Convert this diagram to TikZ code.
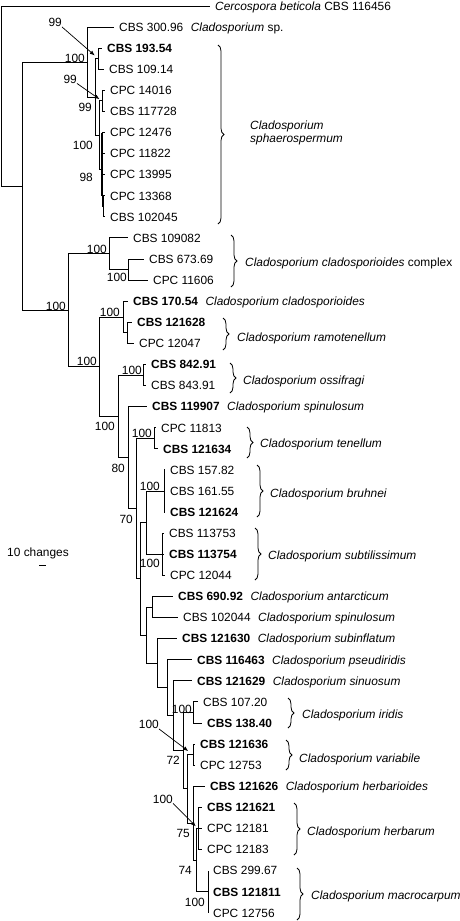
\documentclass[tikz,border=0pt]{standalone}
\usepackage{fontspec}
\setmainfont{Liberation Sans}
\usetikzlibrary{arrows.meta,decorations.pathreplacing}

\newcommand{\treefont}{\fontsize{11.9}{13}\selectfont}
\newcommand{\gap}{\hspace{7.5pt}}

\begin{document}
\begin{tikzpicture}[x=1pt,y=-1pt,
    branch/.style={line width=1pt},
    tip/.style={anchor=west,inner xsep=5pt,inner ysep=0pt,text height=8.5pt,text depth=0pt,font=\treefont},
    boot/.style={anchor=east,inner sep=0pt,text height=8.5pt,text depth=0pt,font=\treefont},
    pointer/.style={line width=0.7pt,-{Latex[length=5pt,width=4pt]}},
    grp/.style={decorate,decoration={brace,amplitude=6pt},line width=0.8pt},
    taxon/.style={anchor=west,inner sep=0pt,text height=8.5pt,text depth=0pt,font=\treefont\itshape}]

        \useasboundingbox (0,0) rectangle (460,921);

        % Tip labels, one row every 21.09
        \foreach \i/\tx/\lab in {
            0/215/{\textit{Cercospora beticola} CBS 116456},
            1/119/{CBS 300.96\gap\textit{Cladosporium} sp.},
            2/107/{\textbf{CBS 193.54}},
            3/109/{CBS 109.14},
            4/110/{CPC 14016},
            5/110/{CBS 117728},
            6/110/{CPC 12476},
            7/110/{CPC 11822},
            8/110/{CPC 13995},
            9/110/{CPC 13368},
            10/110/{CBS 102045},
            11/133/{CBS 109082},
            12/149/{CBS 673.69},
            13/153/{CPC 11606},
            14/133/{\textbf{CBS 170.54}\gap\textit{Cladosporium cladosporioides}},
            15/137/{\textbf{CBS 121628}},
            16/139/{CPC 12047},
            17/151/{\textbf{CBS 842.91}},
            18/151/{CBS 843.91},
            19/152/{\textbf{CBS 119907}\gap\textit{Cladosporium spinulosum}},
            20/161/{CPC 11813},
            21/163/{\textbf{CBS 121634}},
            22/170/{CBS 157.82},
            23/170/{CBS 161.55},
            24/170/{\textbf{CBS 121624}},
            25/169/{CBS 113753},
            26/169/{\textbf{CBS 113754}},
            27/170/{CPC 12044},
            28/178/{\textbf{CBS 690.92}\gap\textit{Cladosporium antarcticum}},
            29/183/{CBS 102044\gap\textit{Cladosporium spinulosum}},
            30/182/{\textbf{CBS 121630}\gap\textit{Cladosporium subinflatum}},
            31/197/{\textbf{CBS 116463}\gap\textit{Cladosporium pseudiridis}},
            32/197/{\textbf{CBS 121629}\gap\textit{Cladosporium sinuosum}},
            33/203/{CBS 107.20},
            34/207/{\textbf{CBS 138.40}},
            35/200/{\textbf{CBS 121636}},
            36/200/{CPC 12753},
            37/210/{\textbf{CBS 121626}\gap\textit{Cladosporium herbarioides}},
            38/207/{\textbf{CBS 121621}},
            39/207/{CPC 12181},
            40/207/{CPC 12183},
            41/213/{CBS 299.67},
            42/213/{\textbf{CBS 121811}},
            43/213/{CPC 12756}}
            \node[tip] (t\i) at ({\tx-5},{6+21.09*\i}) {\lab};

        % Internal nodes
        \coordinate (root) at (1,96);
        \coordinate (n1) at (22,186.1);
        \coordinate (sphA) at (87,62);
        \coordinate (sphB) at (95,97);
        \coordinate (sphC) at (98.5,58.75);
        \coordinate (sphD) at (99,135.2);
        \coordinate (sphE) at (102,100.95);
        \coordinate (sphF) at (102,169.4);
        \coordinate (sphG) at (103.5,206.35);
        \coordinate (n2) at (68,310.25);
        \coordinate (cla1) at (109,253.8);
        \coordinate (cla2) at (128,269.65);
        \coordinate (n3) at (99,366.7);
        \coordinate (ram1) at (123,317.1);
        \coordinate (ram2) at (127.5,332.9);
        \coordinate (n4) at (118,416.35);
        \coordinate (oss) at (143,375.05);
        \coordinate (n5) at (128,457.65);
        \coordinate (n6) at (136,508.6);
        \coordinate (ten) at (154,438.35);
        \coordinate (n7) at (140,578.9);
        \coordinate (brsu) at (146,522.7);
        \coordinate (bru) at (164,491.1);
        \coordinate (sub) at (162,554.35);
        \coordinate (n8) at (146,635.15);
        \coordinate (ant) at (152,607.05);
        \coordinate (n9) at (157,663.25);
        \coordinate (n10) at (167,687.8);
        \coordinate (n11) at (173,715.8);
        \coordinate (n12) at (183,750.75);
        \coordinate (iri) at (193,712.55);
        \coordinate (n13) at (187,788.95);
        \coordinate (var) at (193,754.7);
        \coordinate (n14) at (193,823.2);
        \coordinate (n15) at (196,860.15);
        \coordinate (her) at (198,828.5);
        \coordinate (mac) at (208,891.8);

        % Branches (parent |- child)
        \foreach \p/\c in {root/t0.west, root/n1, n1/sphA, n1/n2,
            sphA/t1.west, sphA/sphB, sphB/sphC, sphB/sphD,
            sphC/t2.west, sphC/t3.west, sphD/sphE, sphD/sphF,
            sphE/t4.west, sphE/t5.west,
            sphF/t6.west, sphF/t7.west, sphF/t8.west, sphF/sphG,
            sphG/t9.west, sphG/t10.west,
            n2/cla1, n2/n3, cla1/t11.west, cla1/cla2, cla2/t12.west, cla2/t13.west,
            n3/ram1, n3/n4, ram1/t14.west, ram1/ram2, ram2/t15.west, ram2/t16.west,
            n4/oss, n4/n5, oss/t17.west, oss/t18.west,
            n5/t19.west, n5/n6, n6/ten, n6/n7, ten/t20.west, ten/t21.west,
            n7/brsu, n7/n8, brsu/bru, brsu/sub,
            bru/t22.west, bru/t23.west, bru/t24.west,
            sub/t25.west, sub/t26.west, sub/t27.west,
            n8/ant, n8/n9, ant/t28.west, ant/t29.west,
            n9/t30.west, n9/n10, n10/t31.west, n10/n11, n11/t32.west, n11/n12,
            n12/iri, n12/n13, iri/t33.west, iri/t34.west,
            n13/var, n13/n14, var/t35.west, var/t36.west,
            n14/t37.west, n14/n15, n15/her, n15/mac,
            her/t38.west, her/t39.west, her/t40.west,
            mac/t41.west, mac/t42.west, mac/t43.west}
            \draw[branch] (\p) |- (\c);
        % zero-length branches stacked on one another
        \draw[branch,line width=2pt] (sphF |- t6.west) -- (sphF |- t9.west);

        % Bootstrap values
        \foreach \x/\y/\v [count=\k] in {85/58/100, 92/107/99, 93/145/100, 93/177/98,
            107/249/100, 127/277/100, 66/306/100, 120/312/100, 97/361/100,
            142/370/100, 115/426/100, 152/433/100, 125/468/80, 160/486/100,
            133/519/70, 160/563/100, 192/709/100, 180/760/72, 190/833/75,
            192/870/74, 205/902/100}
            \node[boot] (bs\k) at (\x,\y) {\v};

        % Values pointing at short branches
        \node[boot] (a1) at (62,22.5) {99};
        \node[boot] (a2) at (77,79) {99};
        \node[boot] (a3) at (159,724.5) {100};
        \node[boot] (a4) at (173,799) {100};
        \draw[pointer,shorten >=5pt] (a1.south east) -- (sphC);
        \draw[pointer,shorten >=3pt] (a2.south east) -- (sphE);
        \draw[pointer,shorten >=6pt] (a3.south east) -- (var);
        \draw[pointer,shorten >=3pt] (a4.south east) -- (her);

        % Species brackets
        \foreach \bx/\ya/\yb/\sx/\sy/\name [count=\k] in {
            231/235/287/245/262/{Cladosporium cladosporioides\/ \upshape complex},
            223/318/350/237/337/{Cladosporium ramotenellum},
            230/363/393/243/380/{Cladosporium ossifragi},
            247/427/458/260/443/{Cladosporium tenellum},
            257/465/517/270/493/{Cladosporium bruhnei},
            255/528/580/268/555/{Cladosporium subtilissimum},
            288/698/728/302/714/{Cladosporium iridis},
            286/740/770/299/758/{Cladosporium variabile},
            294/803/855/307/831/{Cladosporium herbarum},
            297/868/920/311/895/{Cladosporium macrocarpum}} {
            \draw[grp] (\bx,\ya) -- (\bx,\yb);
            \node[taxon] (sp\k) at (\sx,\sy) {\name};
        }
        \draw[grp] (218,45) -- (218,224);
        \node[anchor=west,inner sep=0pt,align=left,font=\treefont\itshape] (sph) at (250,133) {Cladosporium\\sphaerospermum};

        % Scale bar
        \node[font=\treefont,inner sep=0pt] (scl) at (38,553) {10 changes};
        \draw[branch] (39,565) -- (46,565);

\end{tikzpicture}
\end{document}
